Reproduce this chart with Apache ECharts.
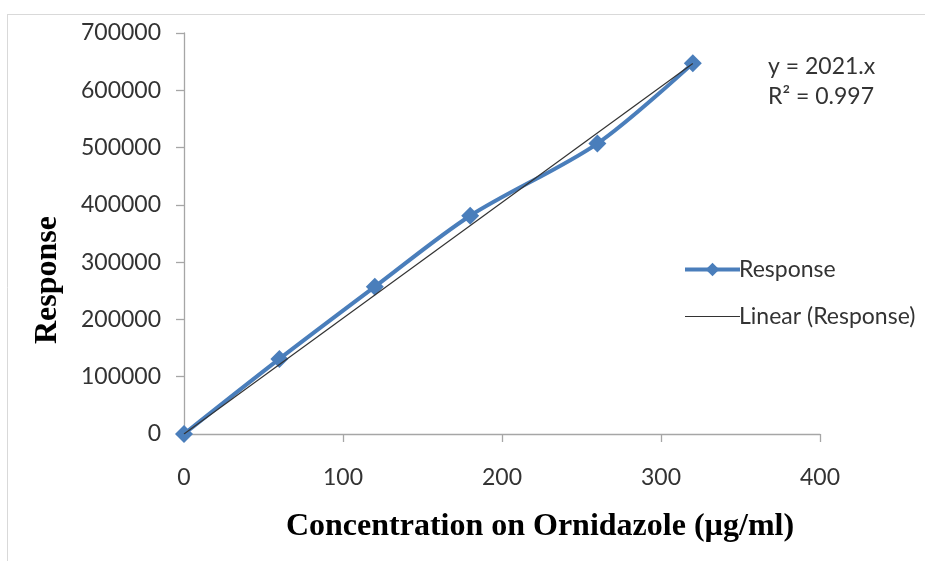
<!DOCTYPE html>
<html>
<head>
<meta charset="utf-8">
<script src="https://cdn.jsdelivr.net/npm/echarts@6/dist/echarts.min.js"></script>
<style>html,body{margin:0;padding:0;background:#fff}#c{width:925px;height:561px}</style>
</head>
<body>
<div id="c"></div>
<script>
var concentrations = [0, 60, 120, 180, 260, 320];
var responses = [0, 131000, 257000, 381000, 507000, 647000];
var trendSlope = 2021;
var trendX = [0, 320];
var equationText = ['y = 2021.x', 'R\u00b2 = 0.997'];
var xTitle = 'Concentration on Ornidazole (\u00b5g/ml)';
var yTitle = 'Response';

var chart = echarts.init(document.getElementById('c'));
var respData = concentrations.map(function (x, i) { return [x, responses[i]]; });
var trendData = trendX.map(function (x) { return [x, x * trendSlope]; });
var labelFont = 'Lato, "Open Sans", sans-serif';
var titleFont = '"Liberation Serif", serif';

chart.setOption({
  animation: false,
  backgroundColor: '#fff',
  grid: { left: 184, right: 105, top: 33, bottom: 127 },
  xAxis: {
    type: 'value', min: 0, max: 400, interval: 100,
    axisLine: { show: true, onZero: false, lineStyle: { color: '#a6a6a6', width: 1.3 } },
    axisTick: { show: true, inside: false, length: 8, lineStyle: { color: '#a6a6a6', width: 1.3 } },
    axisLabel: { fontFamily: labelFont, fontSize: 23, color: '#333', margin: 32 },
    splitLine: { show: false }
  },
  yAxis: {
    type: 'value', min: 0, max: 700000, interval: 100000,
    axisLine: { show: true, lineStyle: { color: '#a6a6a6', width: 1.3 } },
    axisTick: { show: true, inside: false, length: 8, lineStyle: { color: '#a6a6a6', width: 1.3 } },
    axisLabel: { fontFamily: labelFont, fontSize: 23, color: '#333', margin: 23, formatter: function (v) { return String(v); } },
    splitLine: { show: false }
  },
  legend: {
    orient: 'vertical', left: 678, top: 253, itemGap: 24,
    itemWidth: 55, itemHeight: 17,
    textStyle: { fontFamily: labelFont, fontSize: 23, color: '#333', padding: [0, 0, 0, -6] },
    data: [
      { name: 'Response', lineStyle: { width: 4, color: '#4a7ebb' }, itemStyle: { color: '#4a7ebb' } },
      { name: 'Linear (Response)', icon: 'path://M0,0 L55,0 L55,1 L0,1 Z', itemStyle: { color: '#333' } }
    ]
  },
  series: [
    {
      name: 'Response', type: 'line', data: respData, smooth: 0.3,
      symbol: 'diamond', symbolSize: 18,
      lineStyle: { color: '#4a7ebb', width: 4 },
      itemStyle: { color: '#4a7ebb' }, z: 2
    },
    {
      name: 'Linear (Response)', type: 'line', data: trendData,
      symbol: 'none', lineStyle: { color: '#333', width: 1.2 },
      itemStyle: { color: '#333' }, z: 3
    }
  ],
  graphic: [
    { type: 'line', shape: { x1: 7.5, y1: 14, x2: 7.5, y2: 561 }, style: { stroke: '#d9d9d9', lineWidth: 1 } },
    { type: 'line', shape: { x1: 7, y1: 14.5, x2: 925, y2: 14.5 }, style: { stroke: '#d9d9d9', lineWidth: 1 } },
    { type: 'text', left: 768, top: 52, style: { text: equationText.join('\n'), fontFamily: labelFont, fontSize: 23, lineHeight: 30, fill: '#333' } },
    { type: 'text', x: 540, y: 527, style: { text: xTitle, fontFamily: titleFont, fontWeight: 'bold', fontSize: 32, fill: '#000', align: 'center', verticalAlign: 'middle' } },
    { type: 'text', x: 48, y: 280, rotation: Math.PI / 2, style: { text: yTitle, fontFamily: titleFont, fontWeight: 'bold', fontSize: 32, fill: '#000', align: 'center', verticalAlign: 'middle' } }
  ]
});
</script>
</body>
</html>
